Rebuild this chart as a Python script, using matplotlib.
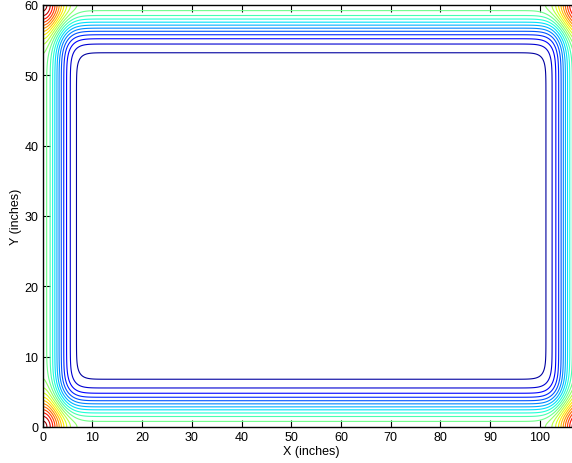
import numpy as np
import matplotlib
matplotlib.use("Agg")
import matplotlib.pyplot as plt

plt.rcParams['font.family'] = ['Liberation Sans', 'DejaVu Sans']

# Domain (inches)
plate_width = 108.0
plate_height = 60.0
# Width of the edge field (inches)
edge_scale = 4.0
# Contour levels
levels = [0.056, 0.146, 0.237, 0.327, 0.418, 0.508, 0.599, 0.689, 0.780,
          0.870, 0.961, 1.051, 1.142, 1.232, 1.323, 1.413, 1.504, 1.594,
          1.685, 1.775, 1.866, 1.956]
color_min = 0.0
color_max = 2.0
x_ticks = [0, 10, 20, 30, 40, 50, 60, 70, 80, 90, 100]
y_ticks = [0, 10, 20, 30, 40, 50, 60]

x = np.linspace(0, plate_width, 1081)
y = np.linspace(0, plate_height, 601)
X, Y = np.meshgrid(x, y)


def edge_profile(d):
    return np.exp(-(d / edge_scale) ** 2)


Z = (edge_profile(X) + edge_profile(plate_width - X)
     + edge_profile(Y) + edge_profile(plate_height - Y))

W, H = 572, 464
fig = plt.figure(figsize=(W / 100, H / 100), dpi=100)
ax = fig.add_axes([42.7 / W, 36 / H, 537.0 / W, 422.0 / H])
ax.contour(X, Y, Z, levels=levels, cmap='jet', vmin=color_min, vmax=color_max,
           linewidths=0.8)
ax.set_xlim(0, plate_width)
ax.set_ylim(0, plate_height)
ax.set_xticks(x_ticks)
ax.set_yticks(y_ticks)
ax.tick_params(direction='in', length=5, width=0.8, top=True, right=True,
               labelsize=9, pad=3, colors='black')
for s in ax.spines.values():
    s.set_linewidth(1.0)
    s.set_color('black')
ax.set_xlabel('X (inches)', fontsize=9, labelpad=1)
ax.set_ylabel('Y (inches)', fontsize=9, labelpad=2)
fig.savefig('out.png', dpi=100)
